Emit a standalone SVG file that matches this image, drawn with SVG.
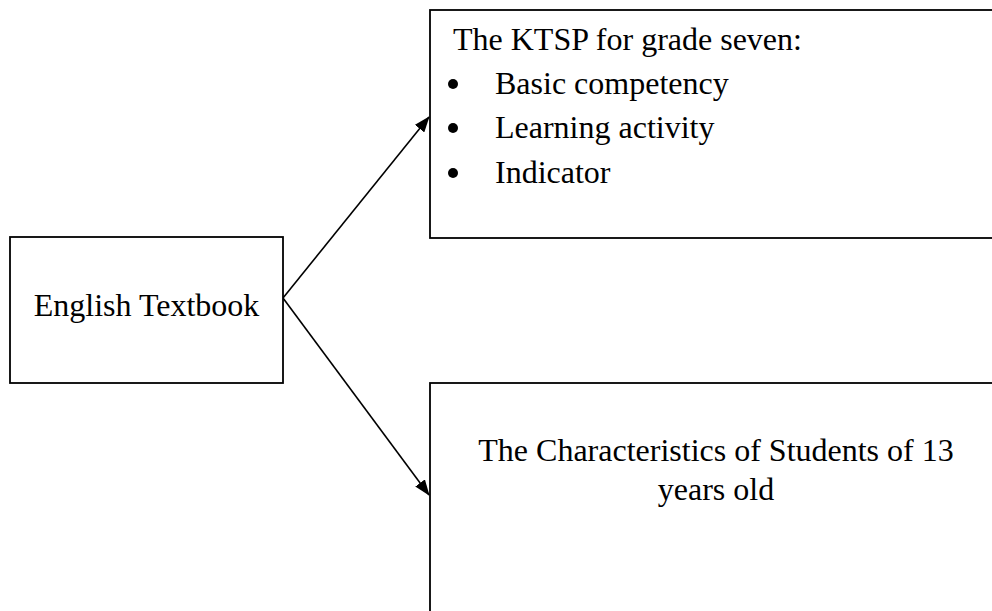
<svg xmlns="http://www.w3.org/2000/svg" width="992" height="611" viewBox="0 0 992 611">
<style>
.box{fill:#fff;stroke:#000;stroke-width:1.8}
.t{font-family:"Liberation Serif","Times New Roman",serif;font-size:32px;fill:#000}
.c{text-anchor:middle}
.ln{stroke:#000;stroke-width:1.6;fill:none}
</style>
<defs>
<marker id="ah" markerWidth="16" markerHeight="12" refX="15" refY="6" orient="auto" markerUnits="userSpaceOnUse">
<path d="M0,0 L16,6 L0,12 Z" fill="#000"/>
</marker>
</defs>
<rect width="992" height="611" fill="#fff"/>
<g id="connectors">
<line class="ln" x1="283" y1="298" x2="429" y2="117" marker-end="url(#ah)"/>
<line class="ln" x1="283" y1="298" x2="429" y2="495" marker-end="url(#ah)"/>
</g>
<g id="english-textbook">
<rect class="box" x="10" y="237" width="273" height="146"/>
<text class="t c" x="146.5" y="316">English Textbook</text>
</g>
<g id="ktsp">
<rect class="box" x="430" y="10" width="580" height="228"/>
<text class="t" x="453" y="50">The KTSP for grade seven:</text>
<circle cx="453" cy="84" r="5"/>
<text class="t" x="495" y="94">Basic competency</text>
<circle cx="453" cy="128" r="5"/>
<text class="t" x="495" y="138">Learning activity</text>
<circle cx="453" cy="173" r="5"/>
<text class="t" x="495" y="183">Indicator</text>
</g>
<g id="characteristics">
<rect class="box" x="430" y="383" width="580" height="240"/>
<text class="t c" x="716" y="461">The Characteristics of Students of 13</text>
<text class="t c" x="716" y="500">years old</text>
</g>
</svg>
